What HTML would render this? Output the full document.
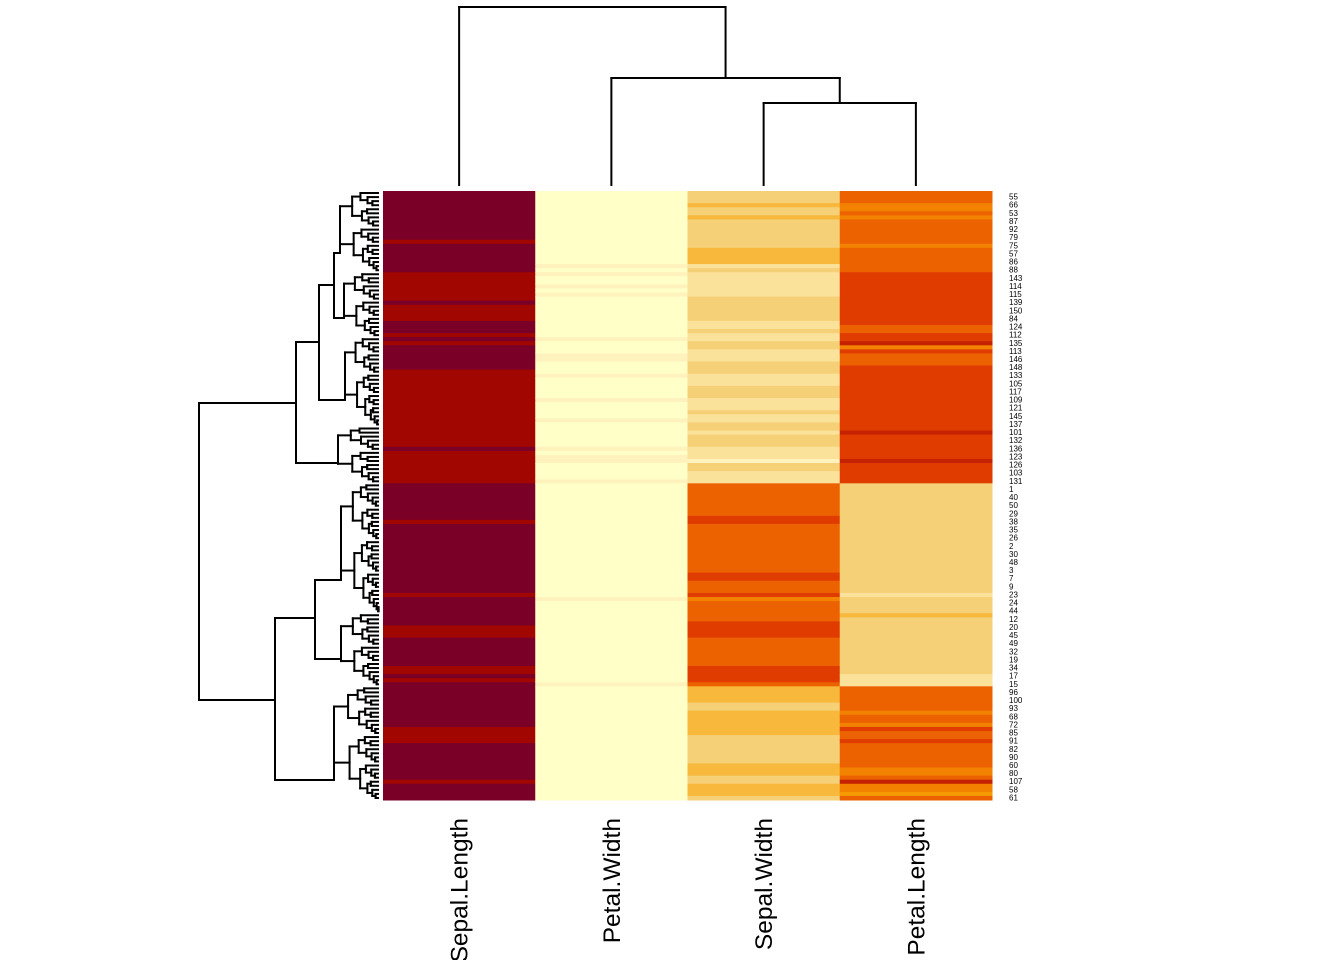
<!DOCTYPE html>
<html><head><meta charset="utf-8"><style>
html,body{margin:0;padding:0;background:#fff;}
svg{display:block;}
</style></head><body>
<svg id="chart" width="1344" height="960" xmlns="http://www.w3.org/2000/svg" font-family="Liberation Sans, sans-serif"></svg>
<script>
// ---- data ----
const columns = ["Sepal.Length","Petal.Width","Sepal.Width","Petal.Length"];
const palette = ["#7a0028","#a10600","#c42200","#e03c00","#ec6200","#f28200","#f7b83c","#f6d077","#fae29a","#fff2bd","#ffffc8","#f59a00"];
// run-length encoded colour levels per column: [level, rowCount]
const runsSepalLength = [[0,12],[1,1],[0,7],[1,7],[0,1],[1,4],[0,3],[1,1],[0,1],[1,1],[0,6],[1,19],[0,1],[1,8],[0,9],[1,1],[0,17],[1,1],[0,7],[1,3],[0,7],[1,2],[0,1],[1,1],[0,11],[1,4],[0,9],[1,1],[0,4]];
const runsPetalWidth = [[10,18],[9,1],[10,1],[9,1],[10,2],[9,1],[10,1],[9,1],[10,10],[9,1],[10,3],[9,2],[10,3],[9,1],[10,5],[9,1],[10,4],[9,1],[10,6],[9,1],[10,1],[9,2],[10,4],[9,1],[10,28],[9,1],[10,20],[9,1],[10,28]];
const runsSepalWidth = [[7,3],[6,1],[7,2],[6,1],[7,7],[6,4],[8,1],[7,1],[8,6],[7,6],[8,2],[7,1],[8,2],[7,2],[8,3],[7,3],[8,3],[7,3],[8,3],[7,1],[8,2],[7,2],[8,1],[7,3],[8,3],[9,1],[7,2],[8,3],[4,8],[3,2],[4,12],[3,2],[4,3],[3,1],[5,1],[4,5],[3,4],[4,7],[3,4],[4,1],[6,4],[7,2],[6,6],[7,7],[6,3],[7,2],[6,3],[7,1]];
const runsPetalLength = [[4,3],[5,2],[4,1],[5,1],[4,6],[5,1],[4,6],[3,13],[4,2],[3,2],[2,1],[5,1],[3,1],[4,3],[3,16],[2,1],[3,6],[2,1],[3,5],[7,27],[8,1],[7,4],[6,1],[7,14],[8,3],[4,6],[5,1],[4,2],[5,1],[3,1],[4,2],[3,1],[4,6],[5,2],[4,1],[2,1],[5,2],[11,1],[4,1]];
const rowLabels = ["55","66","53","87","92","79","75","57","86","88","143","114","115","139","150","84","124","112","135","113","146","148","133","105","117","109","121","145","137","101","132","136","123","126","103","131","1","40","50","29","38","35","26","2","30","48","3","7","9","23","24","44","12","20","45","49","32","19","34","17","15","96","100","93","68","72","85","91","82","90","60","80","107","58","61"];
// column dendrogram merge heights (y in px)
const colMerges = [{a:[2],b:[3],h:103},{a:[1],b:[2,3],h:78},{a:[0],b:[1,2,3],h:7}];
// row dendrogram: [heightX, left, right, centerY]; leaf groups: [startRow, endRow, heightX, centerY]
const rowTree = [199,
  [296, [319, [334,[0,19,340,253],[20,35,344,318],285], [36,57,345,400], 342], [58,71,338,463], 403],
  [275, [315,[72,103,341,580],[104,121,341,659],618], [122,149,334,780], 700]
];

// ---- layout ----
const NS="http://www.w3.org/2000/svg";
const svg=document.getElementById('chart');
const X0=383, X1=992, Y0=191, Y1=800, NR=150;
const colW=(X1-X0)/columns.length, rowH=(Y1-Y0)/NR;
function xCol(i){return X0+i*colW;}
function yRow(r){return Y0+r*rowH;}
function mk(tag,attrs){const e=document.createElementNS(NS,tag);for(const k in attrs)e.setAttribute(k,attrs[k]);svg.appendChild(e);return e;}

const allRuns=[runsSepalLength,runsPetalWidth,runsSepalWidth,runsPetalLength];
allRuns.forEach((runs,ci)=>{
  let r=0;
  runs.forEach(([lv,n])=>{
    const rect=mk('rect',{x:xCol(ci),y:yRow(r),width:colW+0.5,height:n*rowH+0.5,fill:palette[lv]});
    
    
    r+=n;
  });
});

rowLabels.forEach((lab,i)=>{
  const t=mk('text',{x:1009,y:yRow(2*i+1)+rowH/2+2.5,'font-size':8,fill:'#000'});
  t.textContent=lab;
  
  
});

columns.forEach((c,i)=>{
  const cx=xCol(i)+colW/2+8.5;
  const t=mk('text',{x:cx,y:818,'font-size':24.5,fill:'#000','text-anchor':'end',transform:`rotate(-90 ${cx} 818)`});
  t.textContent=c;
  
  
});

function line(x1,y1,x2,y2,name){
  const l=mk('line',{x1,y1,x2,y2,stroke:'#000','stroke-width':2,'stroke-linecap':'square'});
  
  
}

// column dendrogram
const colPos={};
function grpKey(g){return g.join(',');}
columns.forEach((c,i)=>{colPos[grpKey([i])]={x:xCol(i)+colW/2,y:185};});
colMerges.forEach(m=>{
  const A=colPos[grpKey(m.a)],B=colPos[grpKey(m.b)];
  line(A.x,A.y,A.x,m.h,'column-dendrogram-branch');
  line(B.x,B.y,B.x,m.h,'column-dendrogram-branch');
  line(A.x,m.h,B.x,m.h,'column-dendrogram-branch');
  colPos[grpKey(m.a.concat(m.b))]={x:(A.x+B.x)/2,y:m.h};
});

// row dendrogram
const LEAF_X=378;
function leafY(r){return yRow(r)+rowH/2;}
function join(L,R,h,yc){
  line(L.x,L.y,h,L.y,'row-dendrogram-branch');
  line(R.x,R.y,h,R.y,'row-dendrogram-branch');
  const y=(yc===undefined)?(L.y+R.y)/2:yc;
  line(h,Math.min(L.y,R.y,y),h,Math.max(L.y,R.y,y),'row-dendrogram-branch');
  return {x:h,y:y};
}
function autoTree(a,b,h,yc){
  if(a===b) return {x:LEAF_X,y:leafY(a)};
  const n=b-a+1;
  const s=a+Math.max(0,Math.floor(n*0.45)-1);
  const hh=h+(LEAF_X-h)*0.32;
  const L=autoTree(a,s,hh), R=autoTree(s+1,b,hh+1.5);
  return join(L,R,h,yc);
}
function build(node){
  if(typeof node[1]==='number') return autoTree(node[0],node[1],node[2],node[3]);
  const L=build(node[1]), R=build(node[2]);
  return join(L,R,node[0],node[3]);
}
build(rowTree);
</script>
</body></html>
